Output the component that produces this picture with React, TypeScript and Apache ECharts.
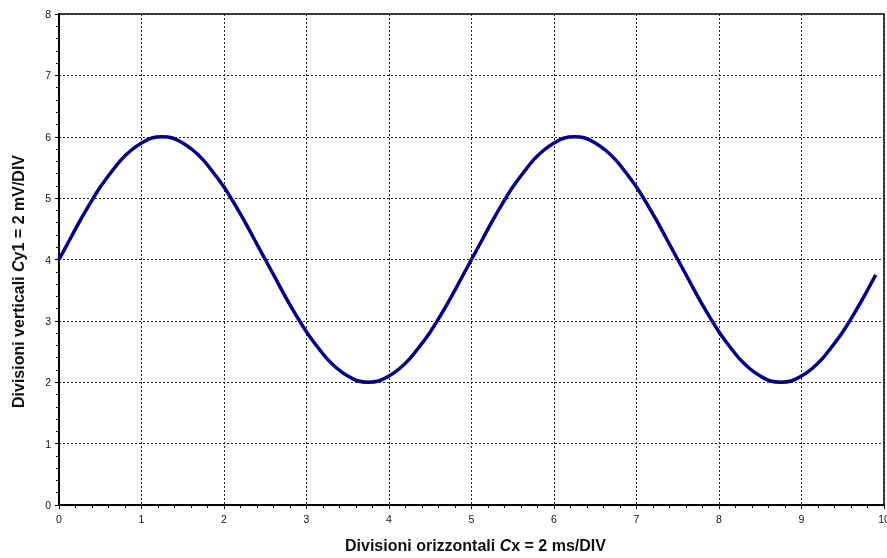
import React, { useEffect, useRef } from "react";
import * as echarts from "echarts";

const xValues = [
  0, 0.125, 0.25, 0.375, 0.5, 0.625, 0.75, 0.875, 1, 1.125, 1.25, 1.375, 1.5, 1.625, 1.75, 1.875,
  2, 2.125, 2.25, 2.375, 2.5, 2.625, 2.75, 2.875, 3, 3.125, 3.25, 3.375, 3.5, 3.625, 3.75, 3.875,
  4, 4.125, 4.25, 4.375, 4.5, 4.625, 4.75, 4.875, 5, 5.125, 5.25, 5.375, 5.5, 5.625, 5.75, 5.875,
  6, 6.125, 6.25, 6.375, 6.5, 6.625, 6.75, 6.875, 7, 7.125, 7.25, 7.375, 7.5, 7.625, 7.75, 7.875,
  8, 8.125, 8.25, 8.375, 8.5, 8.625, 8.75, 8.875, 9, 9.125, 9.25, 9.375, 9.5, 9.625, 9.75, 9.9,
];
const yValues = [
  4.0, 4.31, 4.62, 4.91, 5.18, 5.41, 5.62, 5.78, 5.9, 5.98, 6.0, 5.98, 5.9, 5.78, 5.62, 5.41,
  5.18, 4.91, 4.62, 4.31, 4.0, 3.69, 3.38, 3.09, 2.82, 2.59, 2.38, 2.22, 2.1, 2.02, 2.0, 2.02,
  2.1, 2.22, 2.38, 2.59, 2.82, 3.09, 3.38, 3.69, 4.0, 4.31, 4.62, 4.91, 5.18, 5.41, 5.62, 5.78,
  5.9, 5.98, 6.0, 5.98, 5.9, 5.78, 5.62, 5.41, 5.18, 4.91, 4.62, 4.31, 4.0, 3.69, 3.38, 3.09,
  2.82, 2.59, 2.38, 2.22, 2.1, 2.02, 2.0, 2.02, 2.1, 2.22, 2.38, 2.59, 2.82, 3.09, 3.38, 3.75,
];
const xAxisRange = [0, 10];
const yAxisRange = [0, 8];
const xTitle = ["Divisioni orizzontali ", "C", "x = 2 ms/DIV"];
const yTitle = ["Divisioni verticali ", "C", "y1 = 2 mV/DIV"];

export default function App() {
  const ref = useRef<HTMLDivElement>(null);
  useEffect(() => {
    if (!ref.current) return;
    const chart = echarts.init(ref.current, undefined, { renderer: "svg" });
    const font = "Liberation Sans, Arial, sans-serif";
    const axisCommon = {
      axisLine: { show: true, onZero: false, lineStyle: { color: "#000", width: 2 } },
      axisTick: { show: true, inside: false, length: 4, lineStyle: { color: "#000", width: 1 } },
      minorTick: { show: true, splitNumber: 5, length: 3, lineStyle: { color: "#000", width: 1 } },
      splitLine: { show: true, lineStyle: { color: "#222", width: 1, type: [2, 2] } },
      axisLabel: { color: "#111", fontSize: 10.5, fontFamily: font },
    };
    chart.setOption({
      animation: false,
      grid: {
        left: 59,
        right: 3,
        top: 14,
        bottom: 53,
        show: true,
        borderColor: "#000",
        borderWidth: 1.5,
        containLabel: false,
        outerBoundsMode: "none",
      },
      xAxis: {
        type: "value",
        min: xAxisRange[0],
        max: xAxisRange[1],
        interval: 1,
        ...axisCommon,
        axisLabel: { ...axisCommon.axisLabel, margin: 8 },
      },
      yAxis: {
        type: "value",
        min: yAxisRange[0],
        max: yAxisRange[1],
        interval: 1,
        ...axisCommon,
        axisLabel: { ...axisCommon.axisLabel, margin: 8 },
      },
      series: [
        {
          type: "line",
          data: xValues.map((x, i) => [x, yValues[i]]),
          smooth: 0.2,
          showSymbol: false,
          lineStyle: { color: "#000080", width: 3.5 },
          z: 5,
        },
      ],
      graphic: [
        {
          type: "text",
          left: 345,
          top: 537,
          style: {
            text: `{b|${xTitle[0]}}{i|${xTitle[1]}}{b|${xTitle[2]}}`,
            rich: {
              b: { fontFamily: font, fontWeight: "bold", fontSize: 16, fill: "#111" },
              i: { fontFamily: font, fontWeight: "bold", fontStyle: "italic", fontSize: 16, fill: "#111" },
            },
          },
        },
        {
          type: "text",
          x: 10,
          y: 408,
          rotation: Math.PI / 2,
          style: {
            text: `{b|${yTitle[0]}}{i|${yTitle[1]}}{b|${yTitle[2]}}`,
            rich: {
              b: { fontFamily: font, fontWeight: "bold", fontSize: 16, fill: "#111" },
              i: { fontFamily: font, fontWeight: "bold", fontStyle: "italic", fontSize: 16, fill: "#111" },
            },
          },
        },
      ],
    });
    return () => chart.dispose();
  }, []);
  return <div ref={ref} style={{ position: "fixed", left: 0, top: 0, width: 887, height: 558 }} />;
}
